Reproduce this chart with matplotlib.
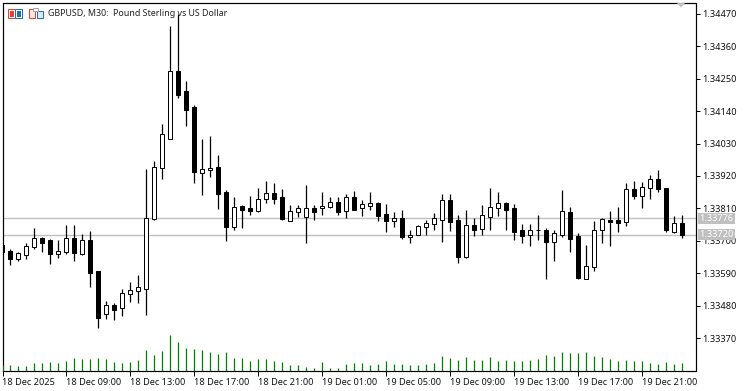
import matplotlib
matplotlib.use("Agg")
import matplotlib.pyplot as plt
from matplotlib.patches import Polygon, Rectangle

# prices in points (1e-5)
opens = [133686, 133665, 133638, 133653, 133680, 133710, 133703, 133656, 133663, 133710,
         133656, 133703, 133597, 133450, 133481, 133471, 133518, 133529, 133535, 133773,
         133946, 134045, 134275, 134208, 134153, 133931, 133939, 133950, 133865, 133746,
         133817, 133810, 133802, 133841, 133861, 133849, 133766, 133797, 133780, 133810,
         133810, 133814, 133831, 133800, 133848, 133810, 133817, 133827, 133790, 133766,
         133776, 133712, 133719, 133746, 133756, 133770, 133837, 133770, 133646, 133753,
         133739, 133780, 133810, 133828, 133810, 133736, 133719, 133736, 133736, 133697,
         133721, 133797, 133716, 133571, 133610, 133736, 133770, 133770, 133765, 133875,
         133853, 133878, 133909, 133878, 133731, 133759]
highs = [133686, 133672, 133662, 133693, 133743, 133713, 133706, 133703, 133754, 133754,
         133723, 133733, 133597, 133496, 133488, 133536, 133560, 133584, 133944, 133971,
         134096, 134429, 134470, 134243, 134160, 134046, 134056, 133991, 133871, 133849,
         133822, 133852, 133879, 133903, 133896, 133876, 133820, 133820, 133889, 133820,
         133866, 133849, 133849, 133859, 133869, 133838, 133866, 133831, 133825, 133798,
         133804, 133736, 133753, 133770, 133793, 133859, 133859, 133787, 133804, 133776,
         133820, 133879, 133866, 133831, 133824, 133756, 133756, 133787, 133742, 133736,
         133871, 133815, 133725, 133686, 133767, 133776, 133801, 133815, 133896, 133903,
         133900, 133923, 133940, 133878, 133783, 133787]
lows = [133655, 133619, 133631, 133638, 133673, 133662, 133621, 133642, 133656, 133631,
        133653, 133544, 133405, 133435, 133432, 133446, 133492, 133489, 133449, 133770,
        133910, 134045, 134186, 134091, 133897, 133856, 133918, 133809, 133700, 133738,
        133744, 133788, 133799, 133829, 133826, 133771, 133766, 133780, 133694, 133772,
        133789, 133810, 133789, 133778, 133806, 133785, 133806, 133768, 133731, 133748,
        133707, 133694, 133719, 133721, 133738, 133697, 133734, 133626, 133643, 133717,
        133721, 133736, 133785, 133738, 133703, 133694, 133683, 133703, 133569, 133632,
        133714, 133663, 133571, 133569, 133598, 133694, 133683, 133731, 133751, 133843,
        133812, 133843, 133865, 133731, 133725, 133710]
closes = [133662, 133638, 133659, 133681, 133708, 133694, 133655, 133664, 133708, 133660,
          133702, 133592, 133439, 133481, 133466, 133522, 133532, 133542, 133776, 133950,
          134062, 134275, 134196, 134145, 133935, 133943, 133946, 133860, 133748, 133814,
          133804, 133801, 133841, 133861, 133843, 133773, 133800, 133810, 133810, 133799,
          133817, 133831, 133798, 133848, 133806, 133824, 133827, 133785, 133768, 133776,
          133714, 133721, 133749, 133759, 133776, 133837, 133765, 133646, 133753, 133738,
          133787, 133814, 133827, 133804, 133731, 133717, 133736, 133736, 133697, 133725,
          133800, 133707, 133574, 133613, 133736, 133773, 133765, 133761, 133875, 133853,
          133882, 133909, 133875, 133738, 133759, 133720]
volumes = [6, 6, 5, 5, 8, 8, 9, 8, 10, 13, 12, 12, 13, 12, 9, 8, 9, 11, 21, 16, 20, 36,
           29, 23, 22, 21, 19, 17, 19, 13, 13, 10, 12, 12, 10, 9, 6, 6, 4, 3, 9, 3, 3, 7,
           8, 8, 6, 7, 10, 7, 7, 6, 6, 7, 8, 15, 13, 11, 14, 11, 11, 14, 10, 11, 10, 10,
           11, 12, 16, 15, 19, 18, 18, 19, 15, 14, 12, 10, 11, 10, 10, 8, 7, 9, 7, 8]
price_ticks = [1.34470, 1.34360, 1.34250, 1.34140, 1.34030, 1.33920, 1.33810, 1.33700,
               1.33590, 1.33480, 1.33370]
time_labels = ["18 Dec 2025", "18 Dec 09:00", "18 Dec 13:00", "18 Dec 17:00", "18 Dec 21:00",
               "19 Dec 01:00", "19 Dec 05:00", "19 Dec 09:00", "19 Dec 13:00", "19 Dec 17:00",
               "19 Dec 21:00"]
current_prices = [1.33776, 1.33720]

W, H = 748, 391
PX = 0.72
YMIN, YMAX = 1.332597, 1.34509
XMIN = 0.02
plt.rcParams["font.family"] = "Noto Sans"

fig = plt.figure(figsize=(W / 100, H / 100), dpi=100, facecolor="white")
ax = fig.add_axes([2.5 / W, (H - 370.5) / H, 693 / W, 368 / H])
ax.set_xlim(XMIN, XMIN + 693 / 8)
ax.set_ylim(YMIN, YMAX)

xs = list(range(len(opens)))
o = [v / 1e5 for v in opens]
c = [v / 1e5 for v in closes]
hi = [v / 1e5 for v in highs]
lo = [v / 1e5 for v in lows]

for p in current_prices:
    ax.axhline(p, color="#c0c0c0", lw=PX * 1.4, zorder=1)

ax.vlines(xs, lo, hi, color="black", lw=PX * 1.25, zorder=2, snap=True)
for x, op, cl in zip(xs, o, c):
    up = cl > op
    ax.bar(x, abs(cl - op), bottom=min(op, cl), width=0.5, zorder=3,
           facecolor="white" if up else "black", edgecolor="black", linewidth=PX)

# volume histogram sits on the same plot, 1 unit per pixel
vol_ax = fig.add_axes(ax.get_position(), frameon=False, sharex=ax)
vol_ax.set_ylim(0, 368)
vol_ax.vlines(xs, 0, volumes, color="#008000", lw=PX * 1.25, snap=True)
vol_ax.axis("off")
vol_ax.set_xlim(XMIN, XMIN + 693 / 8)

ax.yaxis.tick_right()
ax.set_yticks(price_ticks)
ax.set_yticklabels([f"{t:.5f}" for t in price_ticks])
ax.tick_params(axis="y", length=2.9, width=PX, pad=2.2, labelsize=6.6, labelcolor="#111111")
ax.set_xticks(list(range(0, 88, 8))[:len(time_labels)])
ax.set_xticklabels(time_labels, ha="left")
ax.tick_params(axis="x", length=3.6, width=PX, pad=2.0, labelsize=6.6, labelcolor="#111111")
for s in ax.spines.values():
    s.set_linewidth(PX * 1.2)


def rect(x, y, w, h, **kw):
    fig.add_artist(Rectangle((x / W, 1 - (y + h) / H), w / W, h / H,
                             transform=fig.transFigure, **kw))


# price labels of the two current lines
for p in current_prices:
    y_px = 370.5 - (p - YMIN) / (YMAX - YMIN) * 368
    rect(698, y_px - 5.5, 37, 11, facecolor="#c0c0c0", edgecolor="none", zorder=5)
    fig.text(716.5 / W, 1 - y_px / H, f"{p:.5f}", color="white", fontsize=6.6,
             ha="center", va="center", zorder=6)

# header
fig.text(48 / W, 1 - 13.5 / H, "GBPUSD, M30:  Pound Sterling vs US Dollar", fontsize=6.4,
         color="#222222", ha="left", va="center", zorder=6)

# list icon
RED, BLUE = "#e8402c", "#1f6fb5"
rect(8, 9, 6.5, 9, facecolor="white", edgecolor=RED, linewidth=PX, zorder=6)
rect(15, 9, 6.5, 9, facecolor="white", edgecolor=BLUE, linewidth=PX, zorder=6)
for yy in (11.5, 13.5, 15.5):
    rect(9.5, yy, 4, 1, facecolor=RED, edgecolor="none", zorder=7)
    rect(16.5, yy, 4, 1, facecolor=BLUE, edgecolor="none", zorder=7)
# template icon
rect(28.5, 9, 6.5, 9, facecolor="#fde8e2", edgecolor=RED, linewidth=PX, zorder=6)
rect(36.5, 11, 6, 7, facecolor="#d8ebf8", edgecolor=BLUE, linewidth=PX, zorder=6)
rect(33, 8, 5, 3, facecolor="white", edgecolor="#a8a8a8", linewidth=PX, zorder=7)

# scroll marker top right
fig.add_artist(Polygon([(677 / W, 1 - 3 / H), (685 / W, 1 - 3 / H), (681 / W, 1 - 7.5 / H)],
                       closed=True, facecolor="#c0c0c0", edgecolor="none",
                       transform=fig.transFigure))

fig.savefig("out.png", dpi=100)
